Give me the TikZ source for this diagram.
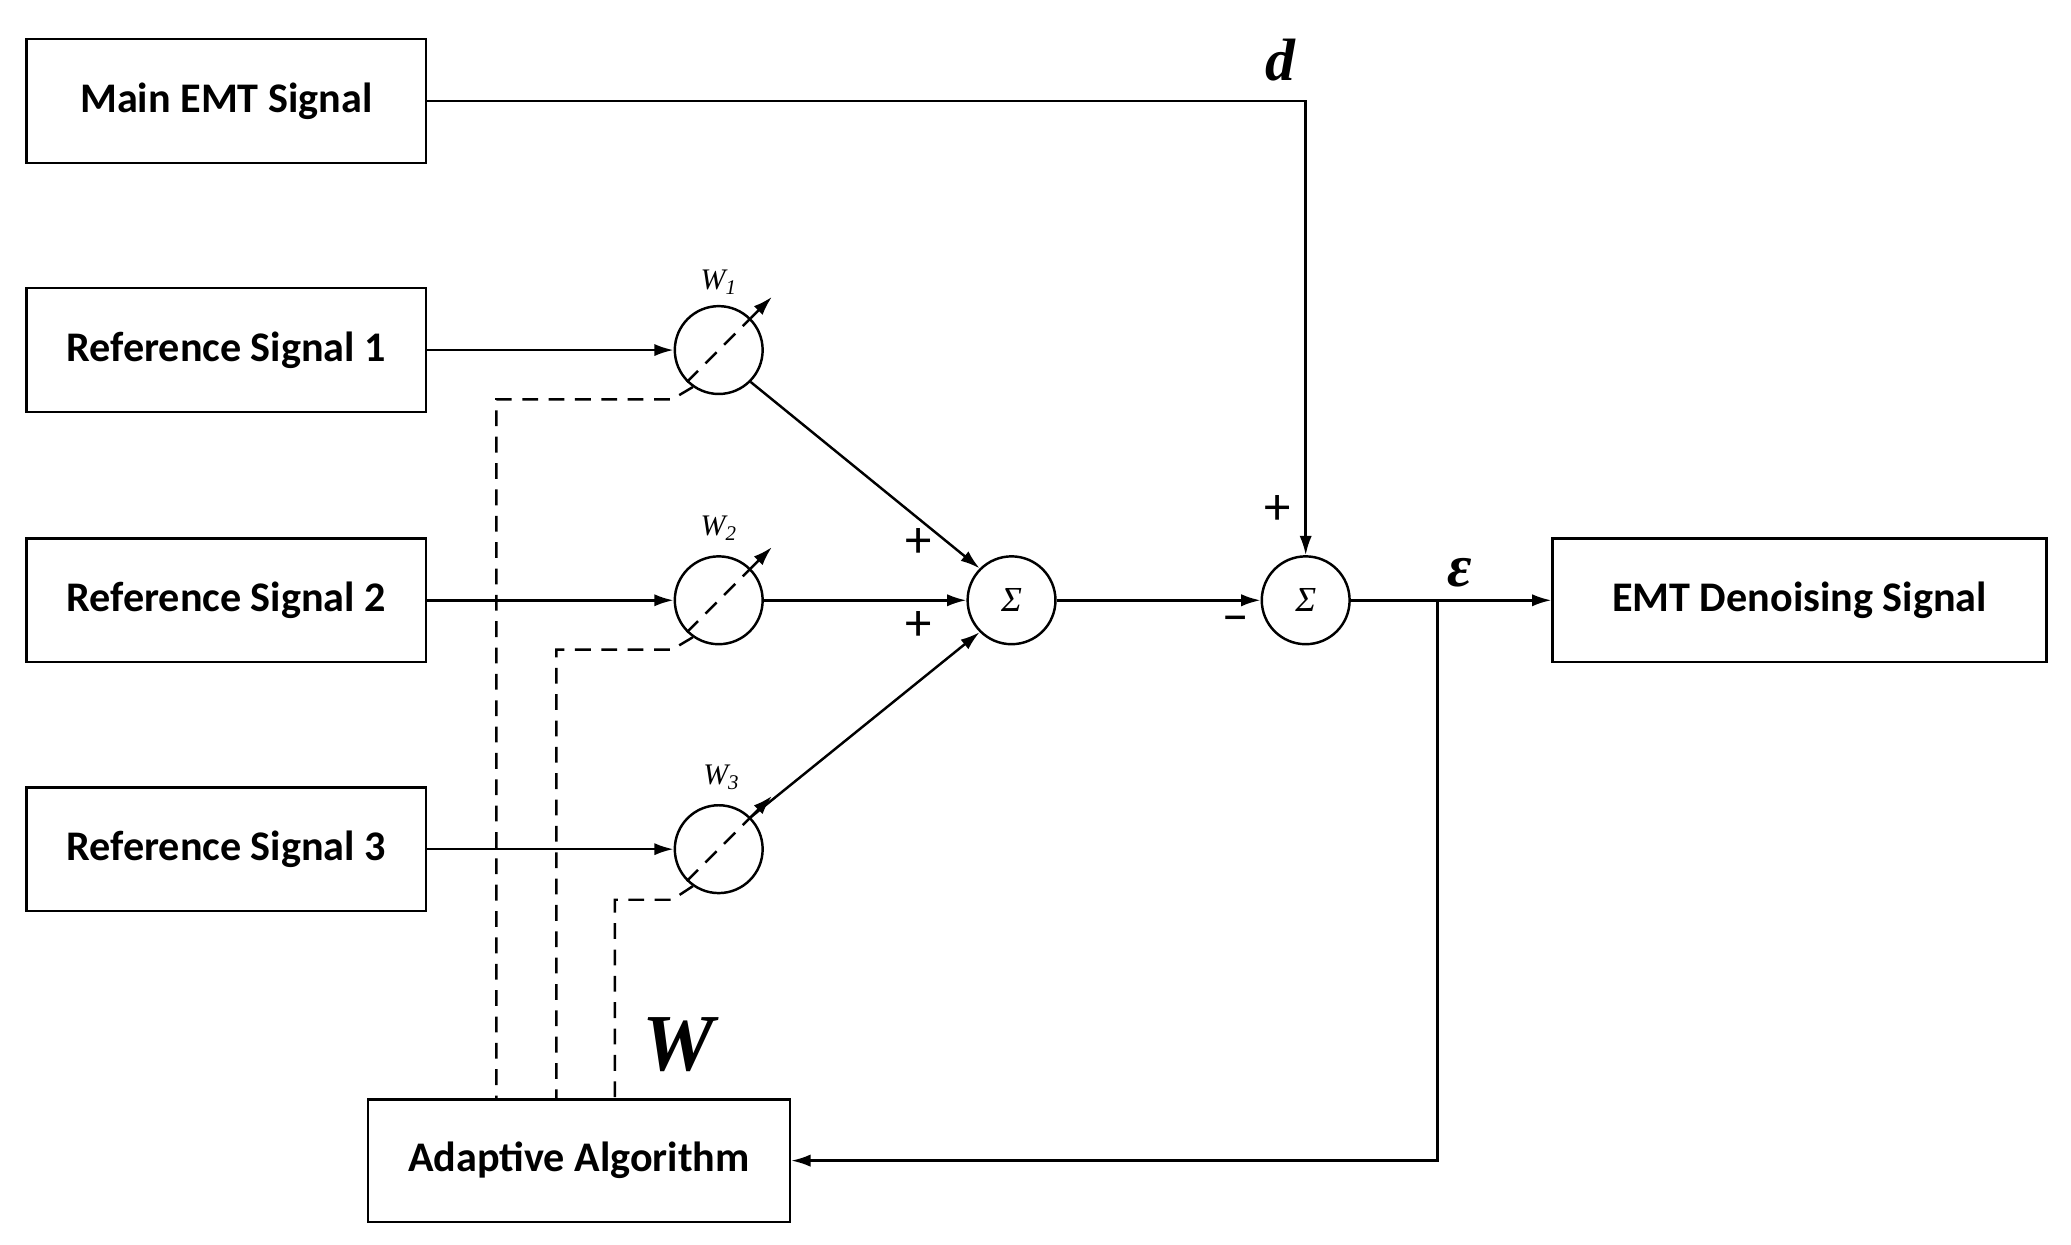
\documentclass[tikz,border=0pt]{standalone}
\usepackage{fontspec}
\setmainfont{Carlito}
\newfontfamily\serif{Liberation Serif}
\usetikzlibrary{arrows.meta}
\begin{document}
\begin{tikzpicture}[x=0.02662cm,y=-0.02662cm,line width=1.4pt,
  box/.style={draw,minimum width=300*0.02662cm,minimum height=93*0.02662cm,inner sep=0pt,font=\fontsize{24}{28}\selectfont\bfseries},
  circ/.style={draw,circle,minimum size=66*0.02662cm,inner sep=0pt},
  arr/.style={-{Latex[length=11pt,width=7pt]}},
  dsh/.style={dash pattern=on 9pt off 6pt},
  wl/.style={font=\serif\itshape\fontsize{17}{20}\selectfont},
  pm/.style={font=\fontsize{30}{30}\selectfont}]
\useasboundingbox (0,0) rectangle (1556,935);
\node[box] (main) at (170,76) {Main EMT Signal};
\node[box] (r1) at (170,263) {Reference Signal 1};
\node[box] (r2) at (170,451) {Reference Signal 2};
\node[box] (r3) at (170,638) {Reference Signal 3};
\node[box,minimum width=371*0.02662cm] (out) at (1352,451) {EMT Denoising Signal};
\node[box,minimum width=317*0.02662cm,minimum height=92*0.02662cm] (ad) at (435,872) {Adaptive Algorithm};
\foreach \i/\y in {1/263,2/451,3/638}{
  \node[circ] (w\i) at (540,\y) {};
  \draw[dsh] (w\i.225) -- (w\i.45);
  \draw[arr] (w\i.45) -- ++(16,-16);
  \draw[arr] (r\i) -- (w\i);
}
\node[wl] at (540,212) {W\textsubscript{1}};
\node[wl] at (540,397) {W\textsubscript{2}};
\node[wl] at (542,584) {W\textsubscript{3}};
\node[circ,font=\serif\itshape\fontsize{20}{20}\selectfont] (s1) at (760,451) {Σ};
\node[circ,font=\serif\itshape\fontsize{20}{20}\selectfont] (s2) at (981,451) {Σ};
\draw[arr] (w1.-45) -- (s1.135);
\draw[arr] (w2) -- (s1);
\draw[arr] (w3.45) -- (s1.225);
\draw[arr] (s1) -- (s2);
\coordinate (c1) at (981,76);
\draw[arr] (main) -- (c1) -- (s2);
\coordinate (j) at (1080,451);
\draw[arr] (s2) -- (out);
\coordinate (j2) at (1080,872);
\draw[arr] (j) -- (j2) -- (ad);
\coordinate (a1) at (505,300); \coordinate (b1) at (373,300);
\coordinate (a2) at (505,488); \coordinate (b2) at (418,488);
\coordinate (a3) at (505,676); \coordinate (b3) at (462,676);
\draw[dsh] (w1.235) -- (a1) -- (b1) -- (b1 |- ad.north);
\draw[dsh] (w2.235) -- (a2) -- (b2) -- (b2 |- ad.north);
\draw[dsh] (w3.235) -- (a3) -- (b3) -- (b3 |- ad.north);
\node[font=\serif\bfseries\itshape\fontsize{34}{34}\selectfont] (d) at (962,45) {d};
\node[font=\serif\bfseries\itshape\fontsize{34}{34}\selectfont] (eps) at (1097,430) {ε};
\node[font=\serif\bfseries\itshape\fontsize{46}{46}\selectfont] (W) at (510,785) {W};
\node[pm] (p1) at (690,408) {+};
\node[pm] (p2) at (690,470) {+};
\node[pm] (p3) at (960,383) {+};
\node[pm] (m1) at (928,470) {\textminus};
\end{tikzpicture}
\end{document}
